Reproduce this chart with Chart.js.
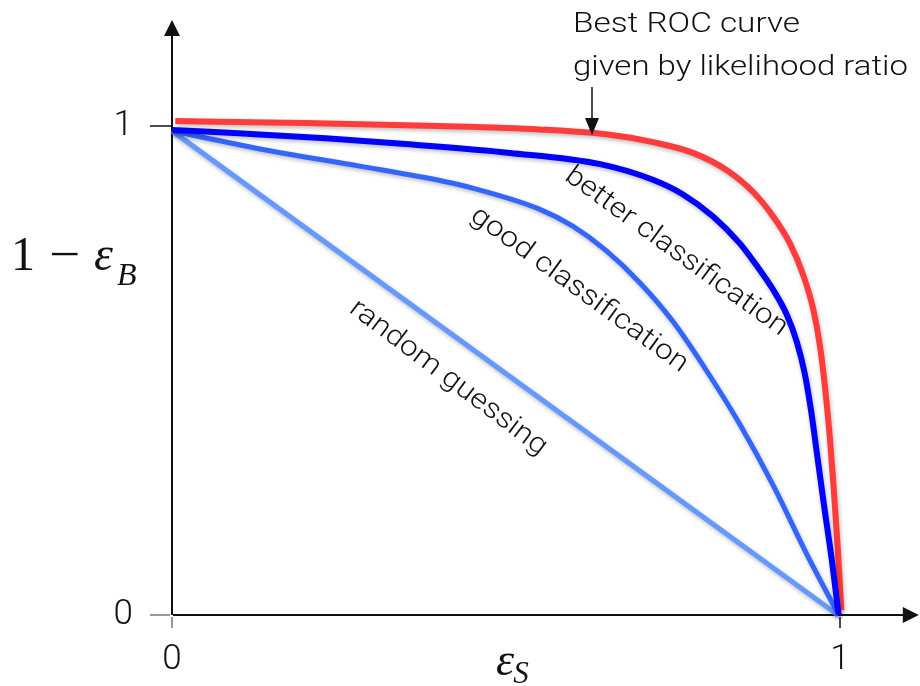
<!DOCTYPE html>
<html><head><meta charset="utf-8">
<script src="https://cdn.jsdelivr.net/npm/chart.js@4/dist/chart.umd.min.js"></script>
<style>html,body{margin:0;padding:0;background:#fff;}#wrap{width:920px;height:686px;}</style>
</head><body><div id="wrap"><canvas id="c" width="920" height="686"></canvas></div>
<script>
// ---- data ----
const bestX   = [0.005, 0.2, 0.4, 0.55, 0.65, 0.72, 0.78, 0.83, 0.87, 0.9, 0.925, 0.945, 0.96, 0.97, 0.978, 0.985, 0.991, 0.997, 1.002];
const bestY   = [1.01, 1.006, 1.0, 0.993, 0.983, 0.967, 0.945, 0.91, 0.865, 0.815, 0.76, 0.695, 0.625, 0.55, 0.46, 0.36, 0.25, 0.13, 0.01];
const betterX = [0, 0.1, 0.23, 0.35, 0.506, 0.641, 0.72, 0.765, 0.81, 0.85, 0.875, 0.9, 0.92, 0.935, 0.947, 0.957, 0.966, 0.976, 0.988, 0.998];
const betterY = [0.992, 0.985, 0.975, 0.963, 0.945, 0.922, 0.89, 0.86, 0.815, 0.76, 0.715, 0.665, 0.615, 0.56, 0.495, 0.415, 0.325, 0.225, 0.11, 0.0];
const goodX   = [0, 0.132, 0.281, 0.406, 0.45, 0.55, 0.6, 0.65, 0.7, 0.75, 0.8, 0.85, 0.9, 0.95, 0.998];
const goodY   = [0.99, 0.953, 0.918, 0.887, 0.873, 0.83, 0.795, 0.745, 0.68, 0.6, 0.5, 0.39, 0.265, 0.125, 0.0];
const randomX = [0, 0.997];
const randomY = [0.99, 0.0];

const xTicks = [0, 1];
const xTickLabels = ['0', '1'];
const yTicks = [0, 1];
const yTickLabels = ['0', '1'];
const annotationLines = ['Best ROC curve', 'given by likelihood ratio'];
const curveLabels = ['better classification', 'good classification', 'random guessing'];

function pts(xa, ya) { return xa.map((x, i) => ({x: x, y: ya[i]})); }

const SANS = 'Roboto, "Liberation Sans", sans-serif';
const SERIF = '"Liberation Serif", "DejaVu Serif", serif';

function fitText(ctx, text, x, y, targetW) {
  const m = ctx.measureText(text).width;
  const sx = targetW / m;
  ctx.save(); ctx.translate(x, y); ctx.scale(sx, 1); ctx.fillText(text, 0, 0); ctx.restore();
}

const decor = {
  id: 'decor',
  beforeDatasetsDraw(chart) {
    const ctx = chart.ctx, xs = chart.scales.x, ys = chart.scales.y;
    const x0 = xs.getPixelForValue(0), y0 = ys.getPixelForValue(0);
    const xTip = xs.getPixelForValue(1.118), yTip = ys.getPixelForValue(1.217);
    ctx.save();
    ctx.strokeStyle = '#111'; ctx.fillStyle = '#111'; ctx.lineWidth = 2;
    ctx.beginPath(); ctx.moveTo(x0, y0); ctx.lineTo(x0, yTip + 14); ctx.stroke();
    ctx.beginPath(); ctx.moveTo(x0, yTip); ctx.lineTo(x0 - 8, yTip + 16); ctx.lineTo(x0 + 8, yTip + 16); ctx.closePath(); ctx.fill();
    ctx.beginPath(); ctx.moveTo(x0 + 1, y0); ctx.lineTo(xTip - 14, y0); ctx.stroke();
    ctx.beginPath(); ctx.moveTo(xTip, y0); ctx.lineTo(xTip - 16, y0 - 8); ctx.lineTo(xTip - 16, y0 + 8); ctx.closePath(); ctx.fill();
    ctx.lineWidth = 1.5;
    yTicks.forEach(v => {
      const y = ys.getPixelForValue(v);
      ctx.strokeStyle = v === 0 ? '#777' : '#111';
      ctx.beginPath(); ctx.moveTo(x0 - 22, y); ctx.lineTo(x0 - (v === 0 ? 2 : 0), y); ctx.stroke();
    });
    xTicks.forEach(v => {
      const x = xs.getPixelForValue(v);
      ctx.strokeStyle = v === 0 ? '#777' : '#111';
      ctx.beginPath(); ctx.moveTo(x, y0 + 2); ctx.lineTo(x, y0 + 13); ctx.stroke();
    });
    ctx.restore();
  },
  beforeDatasetDraw(chart) {
    const ctx = chart.ctx;
    ctx.save();
    ctx.shadowColor = 'rgba(0,0,0,0.28)';
    ctx.shadowBlur = 4; ctx.shadowOffsetX = 1; ctx.shadowOffsetY = 2;
  },
  afterDatasetDraw(chart) { chart.ctx.restore(); },
  afterDatasetsDraw(chart) {
    const ctx = chart.ctx, xs = chart.scales.x, ys = chart.scales.y;
    ctx.save();
    ctx.fillStyle = '#111';
    // tick labels
    ctx.font = '300 35px ' + SANS;
    ctx.textAlign = 'right'; ctx.textBaseline = 'middle';
    yTicks.forEach((v, i) => ctx.fillText(yTickLabels[i], 133, ys.getPixelForValue(v)));
    ctx.textAlign = 'center';
    xTicks.forEach((v, i) => ctx.fillText(xTickLabels[i], xs.getPixelForValue(v), 660));
    // axis titles
    ctx.textAlign = 'left'; ctx.textBaseline = 'alphabetic';
    ctx.font = '48px ' + SERIF;
    ctx.fillText('1', 11, 270);
    fitText(ctx, '\u2212', 49, 270, 31);
    ctx.font = 'italic 48px ' + SERIF;
    ctx.fillText('\u03B5', 94, 270);
    ctx.font = 'italic 32px ' + SERIF;
    ctx.fillText('B', 117, 285);
    ctx.font = 'italic 46px ' + SERIF;
    ctx.fillText('\u03B5', 496, 675);
    const w2 = ctx.measureText('\u03B5').width;
    ctx.font = 'italic 31px ' + SERIF;
    ctx.fillText('S', 496 + w2 - 1, 683);
    // annotation
    ctx.font = '300 28px ' + SANS;
    fitText(ctx, annotationLines[0], 573, 32, 227);
    fitText(ctx, annotationLines[1], 573, 75, 335);
    ctx.strokeStyle = '#111'; ctx.lineWidth = 1.5;
    ctx.beginPath(); ctx.moveTo(592, 87); ctx.lineTo(592, 120); ctx.stroke();
    ctx.beginPath(); ctx.moveTo(592, 135); ctx.lineTo(585, 118); ctx.lineTo(599, 118); ctx.closePath(); ctx.fill();
    // rotated curve labels
    const labs = [
      {t: curveLabels[0], x: 676, y: 252, a: 36, w: 268},
      {t: curveLabels[1], x: 579, y: 290, a: 36, w: 262},
      {t: curveLabels[2], x: 448, y: 378, a: 37, w: 240}
    ];
    ctx.textBaseline = 'middle';
    labs.forEach(l => {
      ctx.save(); ctx.translate(l.x, l.y); ctx.rotate(l.a * Math.PI / 180);
      fitText(ctx, l.t, -l.w / 2, 0, l.w);
      ctx.restore();
    });
    ctx.restore();
  }
};

const common = {showLine: true, pointRadius: 0, fill: false, clip: false, tension: 0.4, cubicInterpolationMode: 'monotone'};

new Chart(document.getElementById('c'), {
  type: 'scatter',
  data: {
    datasets: [
      Object.assign({label: 'better classification', data: pts(betterX, betterY), borderColor: '#0000FF', borderWidth: 6}, common),
      Object.assign({label: 'best ROC', data: pts(bestX, bestY), borderColor: '#FF3C3C', borderWidth: 6}, common),
      Object.assign({label: 'good classification', data: pts(goodX, goodY), borderColor: '#3366FF', borderWidth: 5}, common),
      Object.assign({label: 'random guessing', data: pts(randomX, randomY), borderColor: '#6699FF', borderWidth: 5}, common)
    ]
  },
  options: {
    responsive: false, animation: false, devicePixelRatio: 1,
    layout: {padding: {left: 172, right: 80, top: 126, bottom: 71}},
    plugins: {legend: {display: false}, tooltip: {enabled: false}},
    scales: {
      x: {type: 'linear', min: 0, max: 1, display: false},
      y: {type: 'linear', min: 0, max: 1, display: false}
    }
  },
  plugins: [decor]
});
</script></body></html>
